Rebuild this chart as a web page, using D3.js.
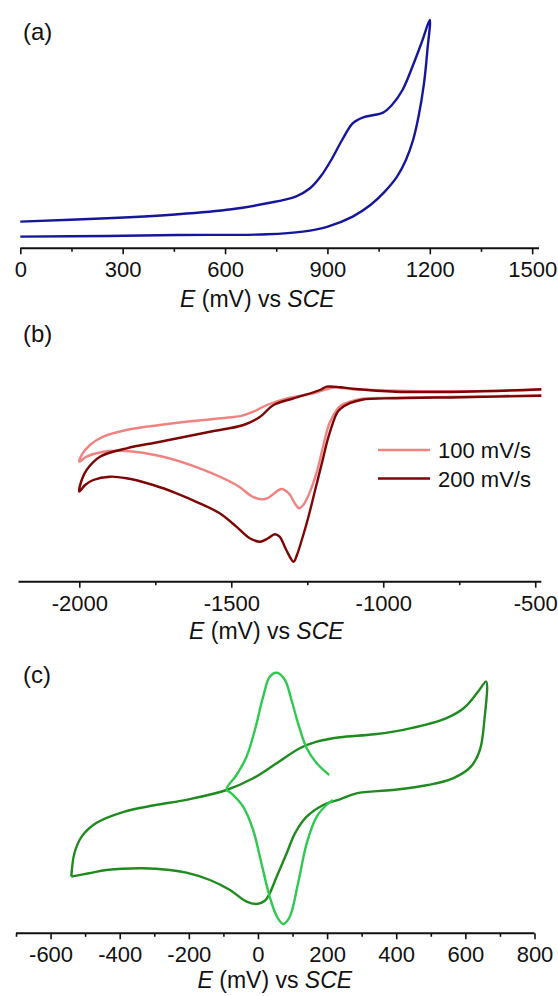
<!DOCTYPE html>
<html>
<head>
<meta charset="utf-8">
<script src="https://cdn.jsdelivr.net/npm/d3@7"></script>
<style>
  body { margin: 0; background: #fff; }
  svg { display: block; font-family: "Liberation Sans", Arial, sans-serif; }
</style>
</head>
<body>
<div id="chart"></div>
<script>
// (a) single CV, [E mV, current a.u.], forward then reverse
const cvA = [
  [0, 26.7], [254, 30], [462, 34], [619, 39], [723, 45], [807, 51.7], [849, 60], [880, 71.7],
  [911, 88.3], [943, 108.3], [974, 125], [1005, 131], [1037, 133.3], [1063, 135.7], [1089, 143.3],
  [1120, 158.3], [1151, 183.3], [1177, 206.7], [1200, 228.3],
  [1193, 198.3], [1183, 165], [1167, 131.7], [1151, 108.3], [1130, 88.3], [1104, 71.7], [1068, 56.7],
  [1026, 43.3], [974, 31.7], [901, 21.7], [828, 16.7], [723, 14], [462, 13.3], [254, 12.3], [0, 11.7]
];

// (b) two scan rates
const cvB100 = [
  [-480, 186.5], [-740, 185], [-960, 184], [-1070, 183], [-1110, 180], [-1140, 176], [-1149, 173.4],
  [-1177, 158.4], [-1198, 135], [-1220, 108.4], [-1248, 85], [-1265, 76], [-1277, 73.4], [-1290, 78],
  [-1310, 88], [-1335, 92.7], [-1360, 88], [-1380, 83.5], [-1401, 82.4], [-1430, 85], [-1483, 96.7],
  [-1604, 113.4], [-1735, 125.7], [-1845, 130.7], [-1921, 130], [-1976, 125], [-2000, 120],
  [-1992, 126.7], [-1965, 136.7], [-1921, 145], [-1845, 151.7], [-1735, 156.7], [-1626, 160.7],
  [-1516, 164], [-1471, 165.5], [-1427, 170], [-1383, 176.7], [-1317, 183.4], [-1229, 188.4],
  [-1166, 194], [-1100, 192.5], [-958, 191], [-738, 190.5], [-480, 192]
];
const cvB200 = [
  [-480, 186], [-740, 184.5], [-960, 183.5], [-1070, 182], [-1110, 178.5], [-1140, 173], [-1153, 168.4],
  [-1180, 145], [-1202, 118.4], [-1224, 91.7], [-1246, 65], [-1268, 41.7], [-1284, 26.7], [-1295, 20],
  [-1319, 31.7], [-1341, 45], [-1357, 47.4], [-1379, 43.4], [-1404, 40], [-1439, 43.4], [-1483, 55],
  [-1538, 68.4], [-1604, 78.4], [-1680, 88.4], [-1757, 96.7], [-1845, 103.4], [-1899, 105],
  [-1954, 101.7], [-1981, 96.7], [-2000, 90],
  [-1992, 101.7], [-1976, 111.7], [-1932, 125], [-1844, 133.4], [-1734, 140], [-1570, 150],
  [-1460, 156.7], [-1405, 165], [-1361, 176.7], [-1295, 183.4], [-1208, 191.7], [-1186, 195],
  [-1142, 194.5], [-1100, 193], [-958, 190], [-738, 190], [-480, 192.4]
];

// (c) background CV (dark) and redox couple (light)
const cvCdark = [
  [-540, 56.7], [-531, 80], [-510, 96.7], [-469, 110], [-386, 121.7], [-300, 128], [-200, 134],
  [-91, 143.3], [-14, 155], [54, 170], [121, 185], [170, 191.6], [237, 196], [337, 199], [440, 205],
  [544, 215], [595, 225], [637, 241.7], [660, 251.7],
  [655, 213.3], [642, 183.3], [616, 166.7], [564, 155], [492, 148.3], [389, 143.3], [285, 140],
  [237, 134], [189, 128.3], [141, 116.6], [107, 100], [83, 80], [54, 56.6], [34, 40], [20, 32.6],
  [-4, 29.3], [-33, 31.6], [-81, 43.3], [-139, 53.3], [-207, 60.6], [-255, 63.3], [-334, 65],
  [-438, 63.3], [-489, 60], [-540, 56.7]
];
const cvClight = [
  [206, 158.3], [170, 170], [141, 185], [116, 210], [97, 233.3], [78, 253.3], [55, 260.6], [34, 256.6],
  [15, 236.6], [-9, 203.3], [-33, 176.6], [-62, 158.3], [-91, 144], [-77, 140], [-43, 126.6],
  [-14, 103.3], [10, 70], [34, 36.6], [55, 16.6], [73, 9.3], [92, 16.6], [116, 50], [141, 90],
  [170, 116.6], [198, 128.3], [217, 133.3]
];

const ticksA = [0, 300, 600, 900, 1200, 1500];
const minorA = [150, 450, 750, 1050, 1350];
const ticksB = [-2000, -1500, -1000, -500];
const minorB = [-1750, -1250, -750];
const ticksC = [-600, -400, -200, 0, 200, 400, 600, 800];
const minorC = [-700, -500, -300, -100, 100, 300, 500, 700];

const legendB = ["100 mV/s", "200 mV/s"];

const width = 558;
const height = 996;

const svg = d3.select("#chart").append("svg")
    .attr("width", width)
    .attr("height", height);

const panels = [
  { tag: "(a)", tagY: 40, axisY: 248.3, domain: [0, 1520], range: [20.3, 539], titleX: 180, titleY: 307,
    major: ticksA, minor: minorA,
    series: [{ data: cvA, color: "#16169a" }] },
  { tag: "(b)", tagY: 342, axisY: 581.7, domain: [-2200, -480], range: [18.5, 541.3], titleX: 189, titleY: 638.5,
    major: ticksB, minor: minorB,
    series: [{ data: cvB100, color: "#f08282" }, { data: cvB200, color: "#7c0606" }] },
  { tag: "(c)", tagY: 683, axisY: 933.3, domain: [-700, 800], range: [16, 534.5], titleX: 197.5, titleY: 987.5,
    major: ticksC, minor: minorC,
    series: [{ data: cvCdark, color: "#1f8a1f" }, { data: cvClight, color: "#30c850" }] }
];

panels.forEach(p => {
  const x = d3.scaleLinear().domain(p.domain).range(p.range);
  const y = d3.scaleLinear().domain([0, 300]).range([p.axisY, p.axisY - 300]);

  const line = d3.line()
      .x(d => x(d[0]))
      .y(d => y(d[1]))
      .curve(d3.curveCatmullRom.alpha(0.5));

  p.series.forEach(s => {
    svg.append("path")
        .attr("d", line(s.data))
        .attr("fill", "none")
        .attr("stroke", s.color)
        .attr("stroke-width", 2.4)
        .attr("stroke-linejoin", "round");
  });

  // minor ticks
  svg.append("g")
      .attr("transform", `translate(0,${p.axisY})`)
      .call(d3.axisBottom(x).tickValues(p.minor).tickSize(3.5).tickSizeOuter(0).tickFormat(""))
      .call(g => g.select(".domain").remove())
      .call(g => g.selectAll("line").attr("stroke", "#111").attr("stroke-width", 1.6));

  // major ticks + labels
  const ax = svg.append("g")
      .attr("transform", `translate(0,${p.axisY})`)
      .call(d3.axisBottom(x).tickValues(p.major).tickSize(6).tickSizeOuter(0).tickFormat(d => String(d)));
  ax.select(".domain").remove();
  ax.selectAll("line").attr("stroke", "#111").attr("stroke-width", 1.6);
  ax.selectAll("text")
      .attr("y", 29)
      .attr("dy", 0)
      .attr("fill", "#111")
      .style("font-size", "22px")
      .style("font-family", "'Liberation Sans', Arial, sans-serif");

  svg.append("line")
      .attr("x1", p.range[0]).attr("x2", p.range[1])
      .attr("y1", p.axisY).attr("y2", p.axisY)
      .attr("stroke", "#111")
      .attr("stroke-width", 2);

  const title = svg.append("text")
      .attr("x", p.titleX)
      .attr("y", p.titleY)
      .attr("fill", "#111")
      .style("font-size", "23px");
  title.append("tspan").style("font-style", "italic").text("E");
  title.append("tspan").text(" (mV) vs ");
  title.append("tspan").style("font-style", "italic").text("SCE");

  svg.append("text")
      .attr("x", 23)
      .attr("y", p.tagY)
      .attr("fill", "#111")
      .style("font-size", "24px")
      .text(p.tag);
});

// legend for (b)
const legend = svg.append("g");
panels[1].series.forEach((s, i) => {
  const ly = 450 + i * 28.5;
  legend.append("line")
      .attr("x1", 378).attr("x2", 430)
      .attr("y1", ly).attr("y2", ly)
      .attr("stroke", s.color)
      .attr("stroke-width", 2.4);
  legend.append("text")
      .attr("x", 438)
      .attr("y", ly + 8.2)
      .attr("fill", "#111")
      .style("font-size", "22px")
      .text(legendB[i]);
});
</script>
</body>
</html>
